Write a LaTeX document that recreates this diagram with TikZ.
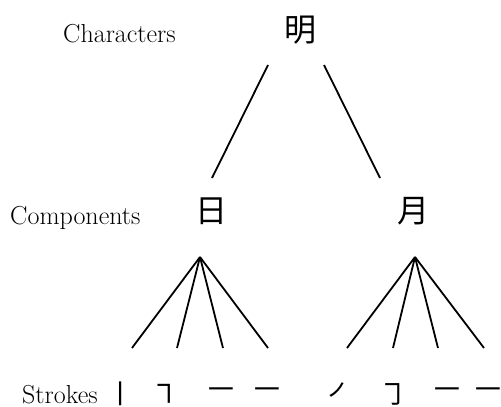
\documentclass[tikz,border=0pt]{standalone}
\usepackage{fontspec}
\newfontfamily\cjk{Noto Sans CJK SC}
\begin{document}
\begin{tikzpicture}[x=1pt,y=-1pt,
  level/.style={anchor=base west,inner sep=0pt,font=\fontsize{26}{30}\selectfont},
  hanzi/.style={inner sep=0pt,font=\cjk\fontsize{32}{36}\selectfont},
  stroke/.style={inner sep=0pt,font=\cjk\fontsize{28}{30}\selectfont},
  edge/.style={line width=1.8pt}]
\useasboundingbox (0,0) rectangle (501,407);
% row labels
\node[level] (lc) at (63,42) {Characters};
\node[level] (lp) at (10,224) {Components};
\node[level] (ls) at (22,403) {Strokes};
% character and its components
\node[hanzi] (ming) at (300,30) {明};
\node[hanzi] (ri) at (211,211) {日};
\node[hanzi] (yue) at (413,211) {月};
% strokes
\node[stroke] (s1) at (120,394) {㇑};
\node[stroke] (s2) at (164,394) {㇕};
\node[stroke] (s3) at (221,394) {㇐};
\node[stroke] (s4) at (267,394) {㇐};
\node[stroke] (s5) at (341,394) {㇒};
\node[stroke] (s6) at (393,394) {㇆};
\node[stroke] (s7) at (447,394) {㇐};
\node[stroke] (s8) at (488,394) {㇐};
% connector end points
\coordinate (ming-l) at (268,65);
\coordinate (ming-r) at (324,65);
\coordinate (ri-t) at (212,178);
\coordinate (yue-t) at (380,178);
\coordinate (ri-a) at (200,257);
\coordinate (yue-a) at (415,257);
\coordinate (e1) at (132,348);
\coordinate (e2) at (177,348);
\coordinate (e3) at (223,348);
\coordinate (e4) at (268,348);
\coordinate (e5) at (347,348);
\coordinate (e6) at (393,348);
\coordinate (e7) at (438,348);
\coordinate (e8) at (484,348);
% tree edges
\draw[edge] (ming-l) -- (ri-t);
\draw[edge] (ming-r) -- (yue-t);
\foreach \i in {1,...,4} \draw[edge] (ri-a) -- (e\i);
\foreach \i in {5,...,8} \draw[edge] (yue-a) -- (e\i);
\end{tikzpicture}
\end{document}
